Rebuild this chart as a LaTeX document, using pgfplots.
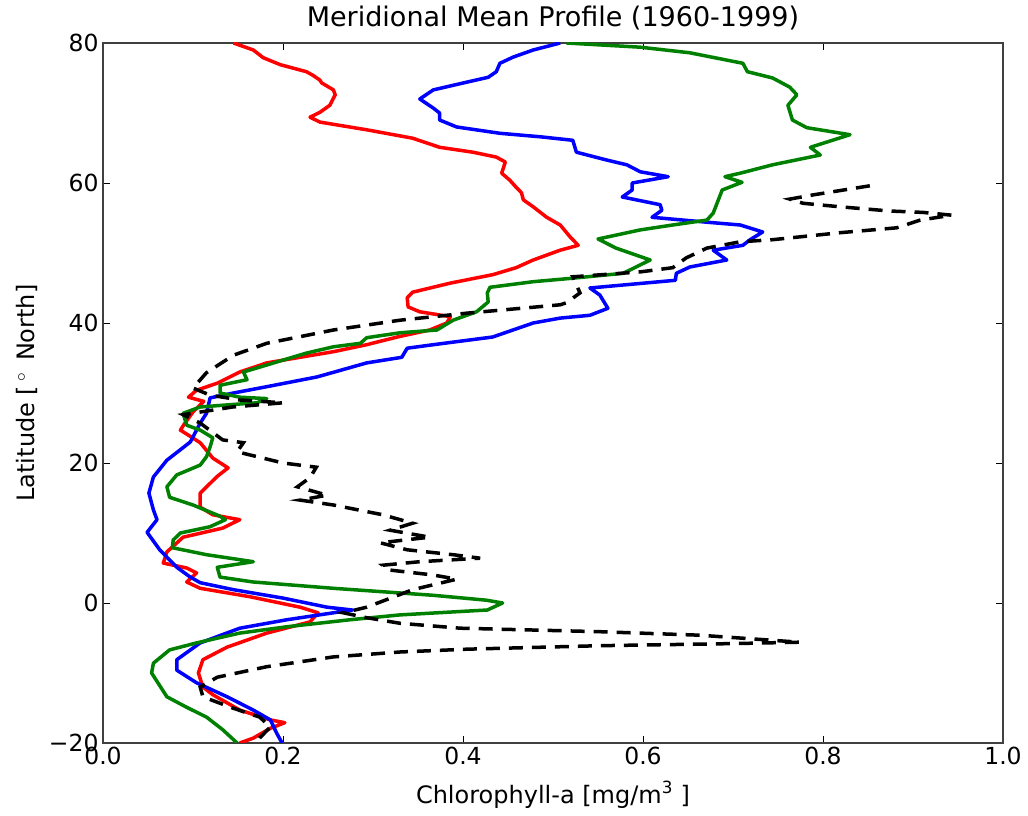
\documentclass[border=0pt]{standalone}
\usepackage{pgfplots}
\pgfplotsset{compat=1.18}
\usepackage{fontspec}
\setmainfont{DejaVu Sans}
\definecolor{mred}{rgb}{1,0,0}
\definecolor{mblue}{rgb}{0,0,1}
\definecolor{mgreen}{rgb}{0,0.5,0}
\begin{document}
\begin{tikzpicture}
\begin{axis}[
  scale only axis, width=900pt, height=700pt,
  xmin=0, xmax=1, ymin=-20, ymax=80,
  xtick={0,0.2,0.4,0.6,0.8,1.0},
  xticklabels={0.0,0.2,0.4,0.6,0.8,1.0},
  ytick={-20,0,20,40,60,80},
  yticklabels={−20,0,20,40,60,80},
  tick align=inside, major tick length=7pt,
  tick style={black, line width=0.8pt},
  axis line style={line width=1.3pt, black!75},
  every tick label/.append style={font=\fontsize{23.5}{27}\selectfont},
  xticklabel style={yshift=-1pt},
  yticklabel style={xshift=-1pt},
  title={Meridional Mean Profile (1960-1999)},
  title style={font=\fontsize{27}{31}\selectfont, at={(axis description cs:0.5,1)}, anchor=base, yshift=10pt},
  xlabel={Chlorophyll-a [mg/m\textsuperscript{3} ]},
  xlabel style={font=\fontsize{24}{28}\selectfont, at={(axis description cs:0.5,0)}, anchor=base, yshift=-60pt},
  ylabel={Latitude [\,\textsuperscript{$\circ$}\, North]},
  ylabel style={font=\fontsize{24}{28}\selectfont, at={(axis description cs:-0.0756,0.5)}, anchor=base, rotate=0},
  clip=true,
]
% red
\addplot[mred, line width=3.5pt, line join=round] coordinates {
(0.145,80)(0.167,79)(0.178,77.9)(0.197,76.9)(0.226,75.9)(0.233,75.4)(0.241,74.7)(0.243,74.3)(0.256,73.3)(0.258,72.6)(0.252,71.1)(0.241,70.1)(0.230,69.4)(0.241,68.7)(0.293,67.6)(0.344,66.4)(0.374,65.1)(0.411,64.4)(0.437,63.7)(0.447,63)(0.443,61.4)(0.452,60.4)(0.459,59.4)(0.465,58.6)(0.467,57.6)(0.478,56.6)(0.493,55.1)(0.508,54)(0.519,52.3)(0.528,51.1)(0.508,50.4)(0.478,49)(0.459,47.9)(0.433,46.9)(0.386,45.7)(0.344,44.4)(0.338,43.6)(0.339,42.3)(0.352,41.6)(0.386,40.9)(0.382,40)(0.363,39)(0.327,38)(0.293,36.9)(0.256,35.9)(0.219,35.1)(0.182,34.3)(0.152,33)(0.127,31.4)(0.104,30.4)(0.095,29.4)(0.112,28.8)(0.1,27.3)(0.09,25.5)(0.086,24.7)(0.108,22.9)(0.122,20.7)(0.139,19.3)(0.127,18.1)(0.108,15.7)(0.108,13.7)(0.122,12.6)(0.152,11.9)(0.133,10.7)(0.089,9.4)(0.071,7.3)(0.067,5.7)(0.093,5)(0.104,4.3)(0.093,3)(0.108,2.1)(0.163,0.9)(0.219,-0.6)(0.239,-1.4)(0.230,-2.7)(0.182,-4.3)(0.138,-6.3)(0.111,-8.1)(0.106,-10)(0.111,-12)(0.122,-13.1)(0.152,-15.3)(0.186,-16.7)(0.202,-17.1)(0.186,-17.9)(0.167,-19.3)(0.152,-20)
};
% blue
\addplot[mblue, line width=3.5pt, line join=round] coordinates {
(0.508,80)(0.478,79)(0.456,78)(0.441,77.1)(0.437,75.9)(0.428,75.1)(0.404,74.4)(0.367,73.3)(0.352,72)(0.367,70.7)(0.374,70)(0.374,69)(0.393,68)(0.441,67.1)(0.486,66.6)(0.522,66.1)(0.526,64.4)(0.559,63.3)(0.582,62.6)(0.597,61.6)(0.628,60.9)(0.588,60)(0.588,59)(0.577,58)(0.619,56.9)(0.621,56.1)(0.610,55.1)(0.671,54.4)(0.708,54)(0.733,53)(0.719,51.9)(0.711,51.1)(0.678,50.4)(0.693,49)(0.652,48)(0.637,47.1)(0.636,46.1)(0.541,45)(0.552,44)(0.561,42.1)(0.541,41.1)(0.508,40.7)(0.478,40)(0.433,38)(0.367,36.9)(0.338,36.4)(0.332,35.1)(0.293,34.3)(0.238,32.3)(0.182,30.9)(0.145,30)(0.119,29.3)(0.115,27.1)(0.108,25.7)(0.097,23)(0.071,20.4)(0.056,18)(0.051,15.7)(0.056,13.3)(0.060,11.9)(0.049,10.1)(0.063,7.6)(0.082,5.1)(0.097,3.7)(0.108,2.9)(0.145,1.9)(0.2,0.7)(0.249,-0.6)(0.277,-1)(0.256,-1.4)(0.204,-2.4)(0.152,-3.6)(0.108,-5.7)(0.082,-8.1)(0.082,-9.6)(0.104,-11.4)(0.138,-13.4)(0.167,-15.3)(0.186,-16.7)(0.193,-18.6)(0.199,-20)
};
% green
\addplot[mgreen, line width=3.5pt, line join=round] coordinates {
(0.515,80)(0.597,79.4)(0.652,78.6)(0.711,77.1)(0.716,75.9)(0.744,75)(0.763,73.7)(0.771,72.6)(0.761,71.1)(0.766,69)(0.782,67.9)(0.830,66.9)(0.786,65.1)(0.797,64)(0.744,62.6)(0.708,61.4)(0.691,60.9)(0.71,60.1)(0.688,59)(0.678,55.7)(0.671,54.7)(0.633,54)(0.597,53.3)(0.55,52)(0.570,50.7)(0.608,49)(0.578,47.1)(0.522,46.4)(0.478,45.9)(0.430,45.1)(0.427,44.3)(0.428,43)(0.415,41.6)(0.389,40.4)(0.371,39)(0.33,38.6)(0.293,37.9)(0.286,37.1)(0.256,36.6)(0.226,35.7)(0.2,34.7)(0.182,34)(0.156,33)(0.16,31.9)(0.130,31.1)(0.13,30)(0.152,29.4)(0.182,29.2)(0.171,28.6)(0.138,28.3)(0.108,28)(0.089,27.1)(0.093,25.4)(0.108,24.7)(0.122,23.6)(0.119,22.3)(0.115,20.9)(0.108,19.7)(0.082,18.3)(0.071,16.6)(0.074,15.1)(0.1,14)(0.130,12.4)(0.136,11.9)(0.119,10.9)(0.086,10)(0.078,9)(0.077,7.9)(0.115,6.9)(0.167,5.9)(0.127,5.1)(0.130,3.7)(0.167,3)(0.256,2.1)(0.367,1.1)(0.426,0.4)(0.444,0)(0.427,-1)(0.33,-1.7)(0.274,-2.4)(0.204,-3.4)(0.152,-4.3)(0.104,-5.7)(0.074,-6.7)(0.056,-8.6)(0.054,-10)(0.061,-11.4)(0.071,-13.4)(0.093,-14.9)(0.115,-16.3)(0.133,-18.1)(0.149,-20)
};
% black dashed
\addplot[black, line width=3.5pt, dash pattern=on 14pt off 9pt] coordinates {
(0.852,59.6)(0.789,58.3)(0.763,57.7)(0.778,57.1)(0.819,56.6)(0.874,56)(0.911,55.8)(0.943,55.4)(0.908,54.7)(0.882,53.6)(0.819,52.9)(0.744,51.9)(0.708,51.6)(0.671,50.7)(0.648,49.3)(0.633,47.9)(0.597,47.3)(0.522,46.6)(0.530,44.3)(0.515,42.9)(0.508,42.6)(0.404,41.4)(0.33,40.4)(0.256,39)(0.182,37.1)(0.145,35.4)(0.115,32.9)(0.1,30.7)(0.119,29.7)(0.152,29)(0.2,28.6)(0.144,28)(0.089,26.9)(0.108,25.7)(0.133,23.3)(0.156,22.9)(0.149,21.6)(0.2,20)(0.237,19.4)(0.230,17.9)(0.216,16.6)(0.249,15.4)(0.219,14.7)(0.256,14)(0.311,12.6)(0.344,11.4)(0.319,10.4)(0.363,9.4)(0.308,8.6)(0.338,7.6)(0.389,6.9)(0.419,6.4)(0.352,5.9)(0.311,5.4)(0.319,4.7)(0.367,4)(0.393,3.4)(0.344,1.9)(0.293,-0.6)(0.267,-1.4)(0.293,-2.1)(0.33,-2.9)(0.397,-3.6)(0.552,-4.1)(0.663,-4.6)(0.774,-5.6)(0.7,-5.8)(0.552,-6.1)(0.404,-6.6)(0.33,-7)(0.256,-7.7)(0.182,-9.1)(0.127,-10.6)(0.108,-12)(0.111,-13.4)(0.144,-15)(0.174,-16.3)(0.186,-17.7)(0.174,-19.3)(0.171,-20)
};
\end{axis}
\pgfresetboundingbox
\path[use as bounding box] (-103pt,-73pt) rectangle (925pt,743pt);
\end{tikzpicture}
\end{document}
